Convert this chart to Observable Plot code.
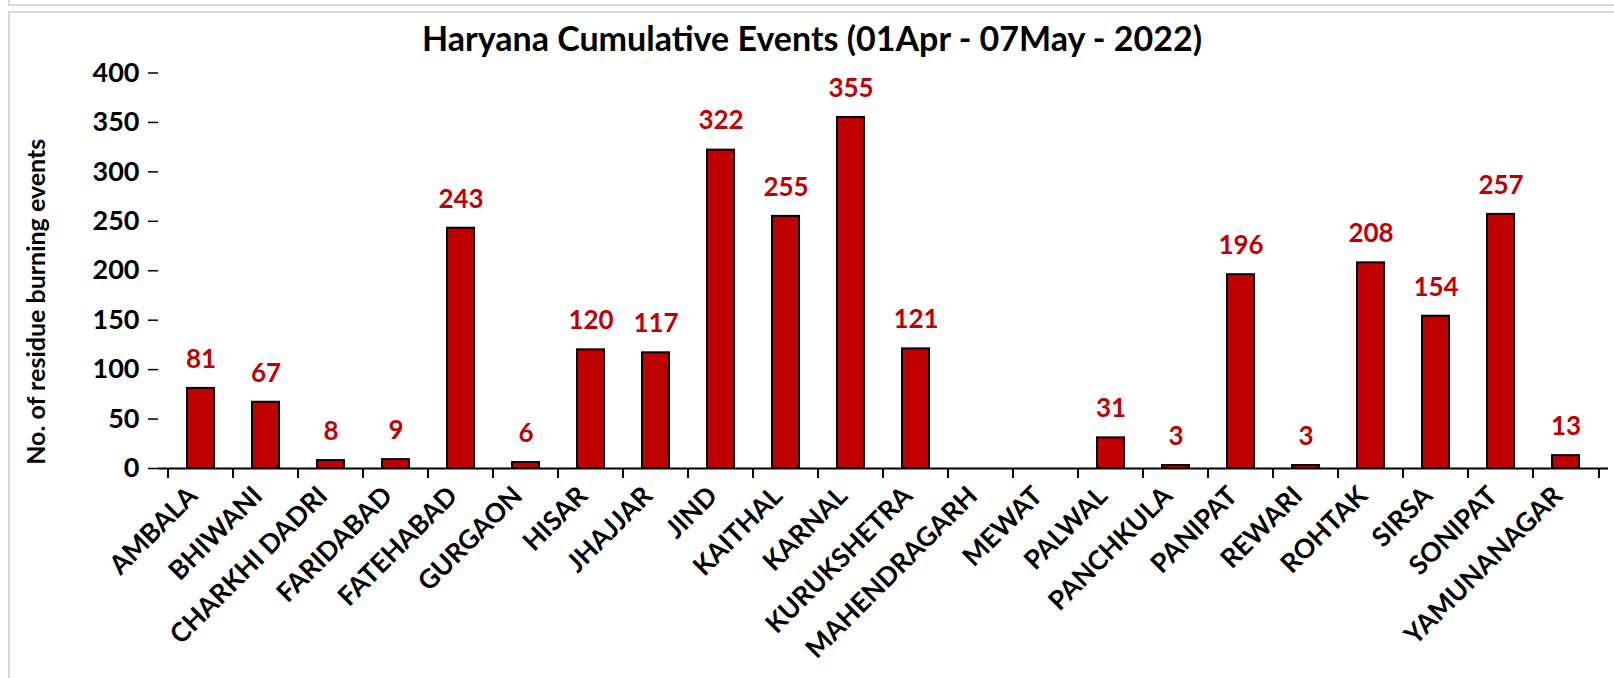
<!DOCTYPE html>
<html>
<head>
<meta charset="utf-8">
<script src="https://cdn.jsdelivr.net/npm/d3@7"></script>
<script src="https://cdn.jsdelivr.net/npm/@observablehq/plot@0.6"></script>
<style>
  html, body { margin: 0; padding: 0; background: #fff; }
  #wrap { position: relative; width: 1614px; height: 678px; overflow: hidden; font-family: Lato, "Open Sans", sans-serif; }
  #prevbox { position: absolute; left: 8px; top: -10px; width: 1700px; height: 14px; border-left: 2px solid #d9d9d9; border-bottom: 2px solid #d9d9d9; }
  #frame { position: absolute; left: 8px; top: 11px; width: 1700px; height: 700px; border-left: 2px solid #d9d9d9; border-top: 2px solid #d9d9d9; }
  #title { position: relative; height: 56px; line-height: 1; text-align: center; font-weight: bold; font-size: 34px; color: #000; padding-top: 21px; box-sizing: border-box; padding-left: 10px; white-space: nowrap; }
  #chart { position: absolute; top: 56px; left: 0; }
</style>
</head>
<body>
<div id="wrap">
  <div id="prevbox"></div>
  <div id="frame"></div>
  <div id="title">Haryana Cumulative Events (01Apr - 07May - 2022)</div>
  <div id="chart"></div>
</div>
<script>
const districts = ["AMBALA","BHIWANI","CHARKHI DADRI","FARIDABAD","FATEHABAD","GURGAON","HISAR","JHAJJAR","JIND","KAITHAL","KARNAL","KURUKSHETRA","MAHENDRAGARH","MEWAT","PALWAL","PANCHKULA","PANIPAT","REWARI","ROHTAK","SIRSA","SONIPAT","YAMUNANAGAR"];
const events = [81,67,8,9,243,6,120,117,322,255,355,121,0,0,31,3,196,3,208,154,257,13];
const yTicks = [0,50,100,150,200,250,300,350,400];
const yLabel = "No. of residue burning events";

const data = districts.map((d, i) => ({district: d, value: events[i]}));
const labelled = data.filter(d => d.value > 0);

const W = 1614, H = 622, mL = 158, mR = 6, mT = 16.5, mB = 210;
const step = (W - mL - mR) / districts.length;
const red = "#C00000";

const chart = Plot.plot({
  width: W,
  height: H,
  marginLeft: mL,
  marginRight: mR,
  marginTop: mT,
  marginBottom: mB,
  style: {fontFamily: "Lato, 'Open Sans', sans-serif", background: "transparent", overflow: "visible"},
  x: {domain: districts, paddingInner: 0.59, paddingOuter: 0.295, label: null},
  y: {domain: [0, 400], label: null},
  marks: [
    Plot.barY(data, {x: "district", y: "value", fill: red, stroke: "#000", strokeWidth: 2}),
    Plot.ruleY([0], {stroke: "#000", strokeWidth: 2}),
    Plot.ruleX(districts, {x: d => d, dx: -step / 2, y1: 0, y2: 0, insetBottom: -10, stroke: "#000", strokeWidth: 2}),
    Plot.ruleX(districts.slice(-1), {x: d => d, dx: step / 2, y1: 0, y2: 0, insetBottom: -10, stroke: "#000", strokeWidth: 2}),
    Plot.axisY({ticks: yTicks, tickSize: 10, tickPadding: 9, tickFormat: d => d, fontSize: 27, fontWeight: "bold", fill: "#000", stroke: "#000", strokeWidth: 1.5, label: null, line: true}),
    Plot.axisX({tickSize: 0, tickPadding: 23, tickRotate: -45, fontSize: 26.5, fontWeight: "bold", fill: "#000", label: null, dx: -8}),
    Plot.text(labelled, {x: "district", y: "value", text: d => String(d.value), dy: -29, fill: red, fontSize: 26, fontWeight: "bold"}),
    Plot.text([yLabel], {frameAnchor: "left", textAnchor: "middle", rotate: -90, dx: -122, dy: 31, fontSize: 25, fontWeight: "bold", fill: "#000"})
  ]
});
document.getElementById("chart").appendChild(chart);
</script>
</body>
</html>
